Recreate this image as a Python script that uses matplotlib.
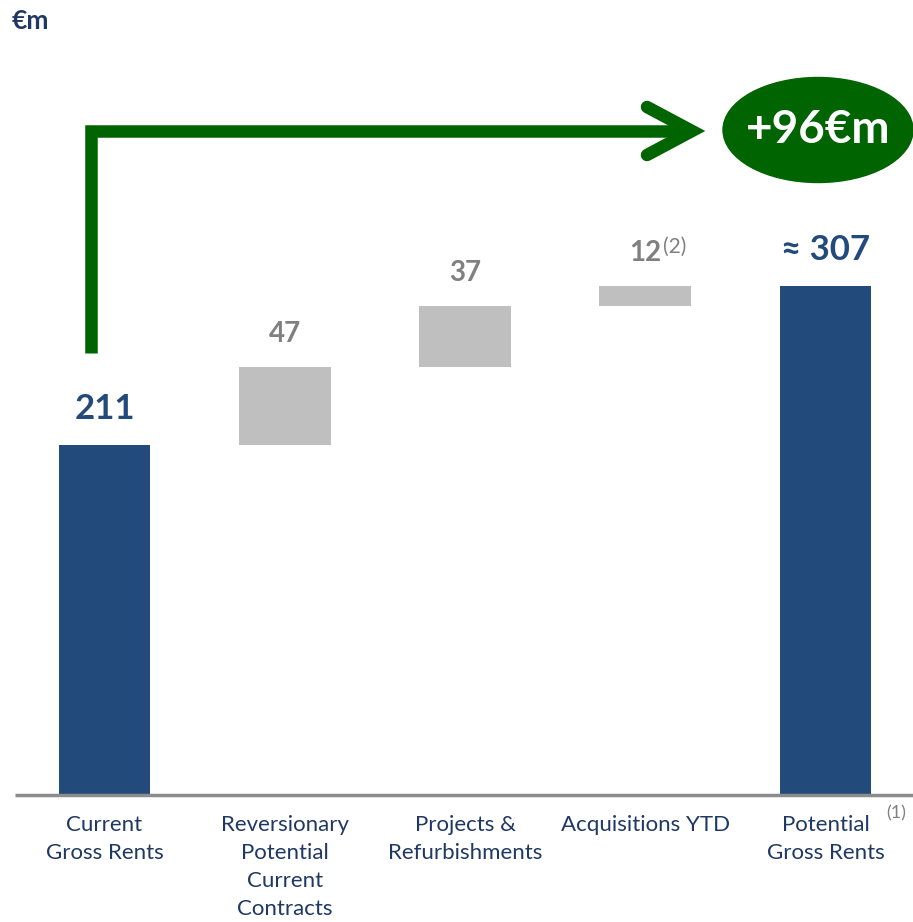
import matplotlib
matplotlib.use("Agg")
import matplotlib.pyplot as plt
from matplotlib.patches import Ellipse

plt.rcParams['font.family'] = ['Lato', 'DejaVu Sans']

categories = ["Current\nGross Rents", "Reversionary\nPotential\nCurrent\nContracts",
              "Projects &\nRefurbishments", "Acquisitions YTD", "Potential\nGross Rents"]
start_value = 211
increments = [47, 37, 12]
end_value = 307
value_labels = ["211", "47", "37", "12", "\u2248 307"]
footnotes = [None, None, None, "(2)", "(1)"]
uplift_label = "+96\u20acm"
unit_label = "\u20acm"

BLUE = "#224A7B"
GRAY = "#BFBFBF"
GRAYTXT = "#808080"
NAVY = "#1F3864"
GREEN = "#006400"

W, H = 913, 922
fig = plt.figure(figsize=(W / 100, H / 100), dpi=100)
px_per_unit_x = 180.25
px_per_unit_y = 1.659
x0_px = 104.5
base_px = 795
ax = fig.add_axes([0, (H - base_px) / H, 1, base_px / H])
ax.set_xlim(-x0_px / px_per_unit_x, (W - x0_px) / px_per_unit_x)
ax.set_ylim(0, base_px / px_per_unit_y)
ax.axis("off")

bw = 0.51
# totals
ax.bar(0, start_value, width=bw, color=BLUE)
ax.bar(4, end_value, width=bw, color=BLUE)
# floating increments
bottom = start_value
for i, inc in enumerate(increments, start=1):
    ax.bar(i, inc, bottom=bottom, width=bw, color=GRAY)
    bottom += inc

# value labels
tops = [start_value]
b = start_value
for inc in increments:
    b += inc
    tops.append(b)
tops.append(end_value)
for i, (lab, top) in enumerate(zip(value_labels, tops)):
    if i in (0, 4):
        t = ax.text(i, top + 12, lab, ha="center", va="bottom", fontsize=25,
                    fontweight="bold", color=BLUE)
    else:
        t = ax.text(i, top + 12, lab, ha="center", va="bottom", fontsize=20,
                    fontweight="bold", color=GRAYTXT)
    if footnotes[i] == "(2)":
        ax.annotate("(2)", xy=(1, 1), xycoords=t, xytext=(1, 2),
                    textcoords="offset points", ha="left", va="top",
                    fontsize=15, color=GRAYTXT)

# baseline
ax.plot([15 / px_per_unit_x - x0_px / px_per_unit_x, (W - x0_px) / px_per_unit_x],
        [0, 0], color="#8C8C8C", lw=2.5, clip_on=False, solid_capstyle="butt")

# category labels
for i, c in enumerate(categories):
    t = ax.text(i, -12, c, ha="center", va="top", fontsize=16, color=NAVY,
                linespacing=1.5)
    if footnotes[i] == "(1)":
        ax.text(i + 0.335, -6, "(1)", ha="left", va="top", fontsize=13, color=GRAYTXT)

# green arrow
xv = (91 - x0_px) / px_per_unit_x
y_low = (base_px - 353) / px_per_unit_y
y_hi = (base_px - 131) / px_per_unit_y
x_end = (688 - x0_px) / px_per_unit_x
ax.plot([xv, xv, x_end], [y_low, y_hi, y_hi], color=GREEN, lw=9,
        solid_joinstyle="miter", solid_capstyle="butt")
xa = (647 - x0_px) / px_per_unit_x
xt = (692 - x0_px) / px_per_unit_x
ax.plot([xa, xt, xa], [(base_px - 107) / px_per_unit_y, y_hi, (base_px - 155) / px_per_unit_y],
        color=GREEN, lw=9, solid_capstyle="round", solid_joinstyle="miter")

# ellipse
ex = (818 - x0_px) / px_per_unit_x
ey = (base_px - 130) / px_per_unit_y
ax.add_patch(Ellipse((ex, ey), 190 / px_per_unit_x, 105 / px_per_unit_y,
                     color=GREEN, clip_on=False))
ax.text(ex, ey, uplift_label, ha="center", va="center", fontsize=33,
        fontweight="bold", color="white")

fig.text(12 / W, 1 - 21 / H, unit_label, ha="left", va="center", fontsize=19,
         fontweight="bold", color=NAVY)

fig.savefig("out.png", dpi=100)
